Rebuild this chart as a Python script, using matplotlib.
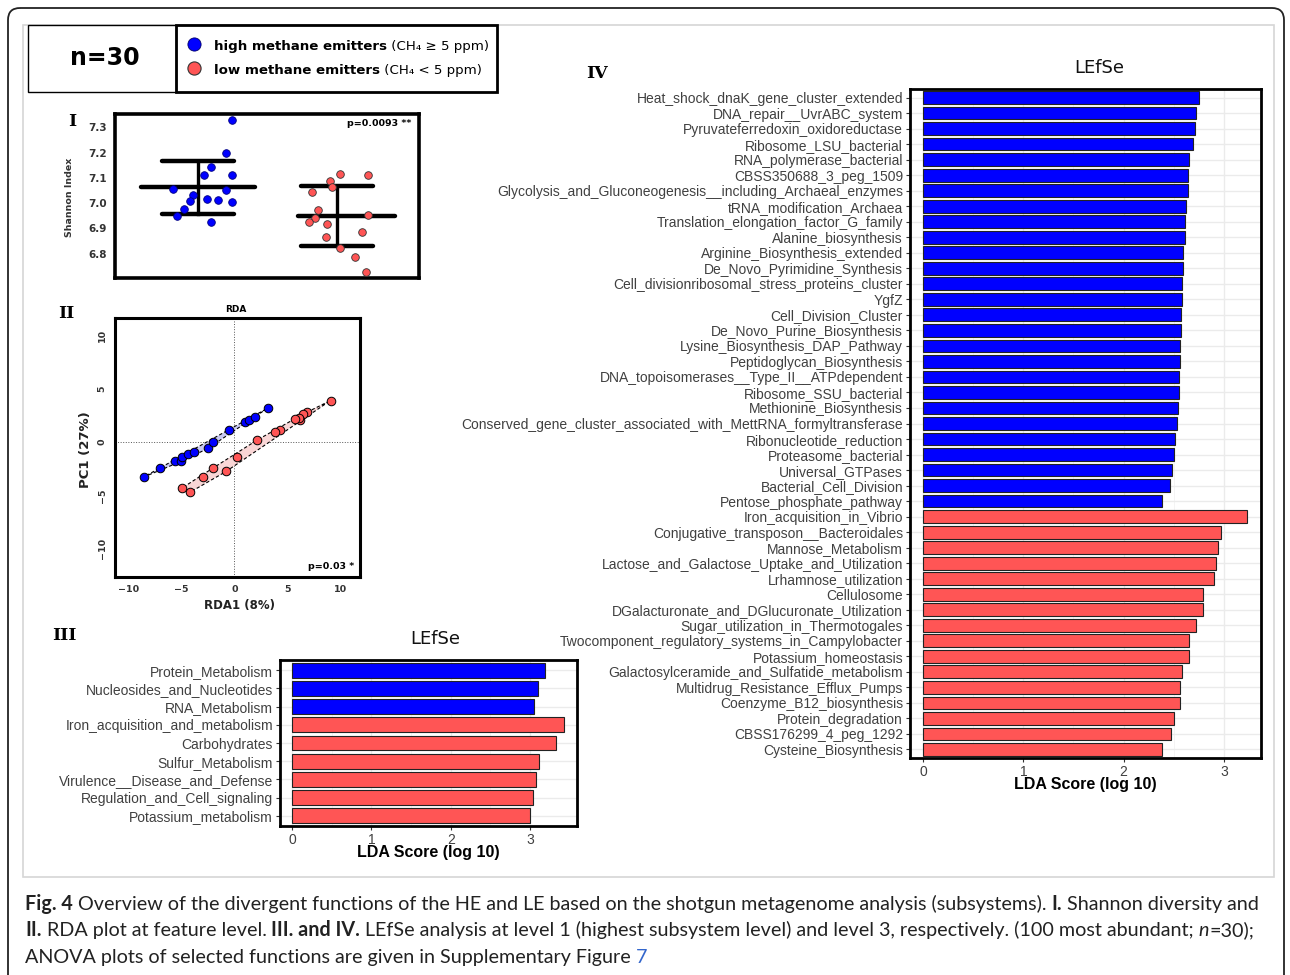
import numpy as np
import matplotlib
matplotlib.use("Agg")
import matplotlib.pyplot as plt
from matplotlib.patches import FancyBboxPatch, Rectangle, Polygon

W, H = 1290, 975

# --- Panel I: Shannon index per animal ---
shannon_high = [7.329, 7.198, 7.144, 7.112, 7.113, 7.058, 7.054, 7.032, 7.015,
                7.011, 7.009, 7.006, 6.976, 6.950, 6.926]
jitter_high = [0.24, 0.20, 0.09, 0.04, 0.24, -0.18, 0.20, -0.04, 0.06,
               0.14, -0.06, 0.24, -0.10, -0.15, 0.09]
shannon_low = [7.115, 7.113, 7.087, 7.066, 7.043, 6.974, 6.942, 6.925, 6.919,
               6.953, 6.868, 6.885, 6.823, 6.787, 6.729]
jitter_low = [0.02, 0.22, -0.05, -0.04, -0.18, -0.14, -0.16, -0.20, -0.07,
              0.22, -0.08, 0.18, 0.02, 0.13, 0.21]
shannon_ticks = [6.8, 6.9, 7.0, 7.1, 7.2, 7.3]

# --- Panel II: RDA scores ---
rda_high_x = [-8.56, -7.0, -5.63, -5.03, -4.91, -4.41, -3.78, -2.5, -1.97, -0.5, 1.0, 1.38, 1.97, 3.13]
rda_high_y = [-3.28, -2.47, -1.81, -1.81, -1.41, -1.09, -0.91, -0.59, 0.0, 1.16, 1.94, 2.06, 2.41, 3.19]
rda_low_x = [9.06, 6.88, 6.47, 6.22, 6.06, 5.69, 4.34, 3.81, 2.13, 0.28, -0.78, -2.03, -2.94, -4.94, -4.16]
rda_low_y = [3.91, 2.81, 2.63, 2.06, 2.25, 2.13, 1.16, 0.97, 0.19, -1.41, -2.75, -2.44, -3.25, -4.31, -4.69]
rda_ticks = [-10, -5, 0, 5, 10]

# --- Panel III: LEfSe level 1 ---
lefse1_features = ['Protein_Metabolism', 'Nucleosides_and_Nucleotides', 'RNA_Metabolism',
                   'Iron_acquisition_and_metabolism', 'Carbohydrates', 'Sulfur_Metabolism',
                   'Virulence__Disease_and_Defense', 'Regulation_and_Cell_signaling',
                   'Potassium_metabolism']
lefse1_scores = [3.19, 3.10, 3.05, 3.43, 3.33, 3.11, 3.07, 3.04, 3.00]
lefse1_group = ['high'] * 3 + ['low'] * 6

# --- Panel IV: LEfSe level 3 ---
lefse3_high_features = [
    'Heat_shock_dnaK_gene_cluster_extended', 'DNA_repair__UvrABC_system',
    'Pyruvateferredoxin_oxidoreductase', 'Ribosome_LSU_bacterial', 'RNA_polymerase_bacterial',
    'CBSS350688_3_peg_1509', 'Glycolysis_and_Gluconeogenesis__including_Archaeal_enzymes',
    'tRNA_modification_Archaea', 'Translation_elongation_factor_G_family', 'Alanine_biosynthesis',
    'Arginine_Biosynthesis_extended', 'De_Novo_Pyrimidine_Synthesis',
    'Cell_divisionribosomal_stress_proteins_cluster', 'YgfZ', 'Cell_Division_Cluster',
    'De_Novo_Purine_Biosynthesis', 'Lysine_Biosynthesis_DAP_Pathway', 'Peptidoglycan_Biosynthesis',
    'DNA_topoisomerases__Type_II__ATPdependent', 'Ribosome_SSU_bacterial', 'Methionine_Biosynthesis',
    'Conserved_gene_cluster_associated_with_MettRNA_formyltransferase', 'Ribonucleotide_reduction',
    'Proteasome_bacterial', 'Universal_GTPases', 'Bacterial_Cell_Division', 'Pentose_phosphate_pathway']
lefse3_high_scores = [2.75, 2.72, 2.71, 2.69, 2.65, 2.64, 2.64, 2.62, 2.61, 2.61, 2.59, 2.59, 2.58,
                      2.58, 2.57, 2.57, 2.56, 2.56, 2.55, 2.55, 2.54, 2.53, 2.51, 2.50, 2.48, 2.46, 2.38]
lefse3_low_features = [
    'Iron_acquisition_in_Vibrio', 'Conjugative_transposon__Bacteroidales', 'Mannose_Metabolism',
    'Lactose_and_Galactose_Uptake_and_Utilization', 'Lrhamnose_utilization', 'Cellulosome',
    'DGalacturonate_and_DGlucuronate_Utilization', 'Sugar_utilization_in_Thermotogales',
    'Twocomponent_regulatory_systems_in_Campylobacter', 'Potassium_homeostasis',
    'Galactosylceramide_and_Sulfatide_metabolism', 'Multidrug_Resistance_Efflux_Pumps',
    'Coenzyme_B12_biosynthesis', 'Protein_degradation', 'CBSS176299_4_peg_1292',
    'Cysteine_Biosynthesis']
lefse3_low_scores = [3.23, 2.97, 2.94, 2.92, 2.90, 2.79, 2.79, 2.72, 2.65, 2.65, 2.58, 2.56, 2.56,
                     2.50, 2.47, 2.38]
lda_ticks = [0, 1, 2, 3]

BLUE = '#0000ff'
RED = '#ff5555'
TICKGREY = '#404040'
colors = {'high': BLUE, 'low': RED}

fig = plt.figure(figsize=(W / 100, H / 100), dpi=100)
fig.patch.set_facecolor('white')

# background axes in pixel coordinates (y down)
bg = fig.add_axes([0, 0, 1, 1], zorder=0)
bg.set_xlim(0, W)
bg.set_ylim(H, 0)
bg.axis('off')


def panel(l, t, r, b):
    return fig.add_axes([l / W, 1 - b / H, (r - l) / W, (b - t) / H], zorder=2)


def convex_hull(xs, ys):
    pts = sorted(set(zip(xs, ys)))

    def cross(o, a, b):
        return (a[0] - o[0]) * (b[1] - o[1]) - (a[1] - o[1]) * (b[0] - o[0])
    lower, upper = [], []
    for p in pts:
        while len(lower) >= 2 and cross(lower[-2], lower[-1], p) <= 0:
            lower.pop()
        lower.append(p)
    for p in reversed(pts):
        while len(upper) >= 2 and cross(upper[-2], upper[-1], p) <= 0:
            upper.pop()
        upper.append(p)
    return lower[:-1] + upper[:-1]


renderer = fig.canvas.get_renderer()


def text_width(s, **kw):
    t = bg.text(0, 0, s + '|', **kw)
    t2 = bg.text(0, 0, '|', **kw)
    w = t.get_window_extent(renderer).width - t2.get_window_extent(renderer).width
    t.remove()
    t2.remove()
    return w


def text_runs(x, y, runs, **kw):
    for s, props in runs:
        opts = dict(kw)
        opts.update(props)
        bg.text(x, y, s, va='baseline', ha='left', **opts)
        x += text_width(s, **opts)


# frames
bg.add_patch(FancyBboxPatch((8, 8), 1276, 1000, boxstyle='round,pad=0,rounding_size=12',
                            fill=False, ec='#222222', lw=1.3))
bg.add_patch(Rectangle((23, 25), 1251, 852, fill=False, ec='#d6d6d6', lw=1.2))

# header: n=30 and legend
bg.add_patch(Rectangle((28, 25), 148, 67, fill=False, ec='black', lw=1.0))
bg.add_patch(Rectangle((176, 25), 321, 67, fill=False, ec='black', lw=2.0))
bg.text(105, 58, 'n=30', ha='center', va='center', fontsize=17, fontweight='bold',
        family='DejaVu Sans')
bg.scatter([194], [44], s=90, color=BLUE, edgecolor='#000066', lw=0.6, zorder=3)
bg.scatter([194], [68], s=90, color=RED, edgecolor='#333333', lw=0.8, zorder=3)
text_runs(214, 50, [('high methane emitters', {'fontweight': 'bold'}),
                    (' (CH\u2084 \u2265 5 ppm)', {})], fontsize=9.6, family='DejaVu Sans')
text_runs(214, 74, [('low methane emitters', {'fontweight': 'bold'}),
                    (' (CH\u2084 < 5 ppm)', {})], fontsize=9.6, family='DejaVu Sans')

# section numerals
for lab, (x, y) in {'I': (72, 122), 'II': (66, 313), 'III': (64, 636), 'IV': (597, 73)}.items():
    bg.text(x, y, lab, ha='center', va='center', fontsize=12.5, fontweight='bold',
            family='DejaVu Serif')

# ---------------- Panel I ----------------
ax1 = panel(115, 114, 419, 278)
for pos, vals, jit, col, ec, (ml, mr) in [(1, shannon_high, jitter_high, BLUE, '#000080', (0.41, 0.41)),
                                          (2, shannon_low, jitter_low, RED, '#333333', (0.28, 0.42))]:
    vals = np.array(vals)
    m, sd = vals.mean(), vals.std(ddof=1)
    ax1.plot([pos - ml, pos + mr], [m, m], color='black', lw=3.2, solid_capstyle='round', zorder=2)
    ax1.plot([pos - 0.26, pos + 0.26], [m + sd, m + sd], color='black', lw=3.2, solid_capstyle='round', zorder=2)
    ax1.plot([pos - 0.26, pos + 0.26], [m - sd, m - sd], color='black', lw=3.2, solid_capstyle='round', zorder=2)
    ax1.plot([pos, pos], [m - sd, m + sd], color='black', lw=2.4, zorder=2)
    ax1.scatter(pos + np.array(jit), vals, s=30, color=col, edgecolor=ec, lw=0.6, zorder=3)
ax1.set_xlim(0.40, 2.59)
ax1.set_ylim(6.704, 7.353)
ax1.set_xticks([])
ax1.set_yticks(shannon_ticks)
ax1.set_yticklabels([f'{v:.1f}' for v in shannon_ticks])
ax1.tick_params(axis='y', length=0, labelsize=7.5, pad=6)
for lab in ax1.get_yticklabels():
    lab.set_fontweight('bold')
    lab.set_color('#333333')
for sp in ax1.spines.values():
    sp.set_linewidth(2.6)
ax1.text(0.975, 0.94, 'p=0.0093 **', transform=ax1.transAxes, ha='right', va='center',
         fontsize=6.8, fontweight='bold')
bg.text(70, 197, 'Shannon Index', rotation=90, ha='center', va='center', fontsize=6.8,
        fontweight='bold', color='#333333')

# ---------------- Panel II ----------------
ax2 = panel(115, 318, 360, 577)
for xs, ys, col, fill, ec in [(rda_high_x, rda_high_y, BLUE, '#c9c9f2', '#000080'),
                              (rda_low_x, rda_low_y, RED, '#f9d6d6', '#333333')]:
    hull = convex_hull(xs, ys)
    ax2.add_patch(Polygon(hull, closed=True, fc=fill, ec='black', lw=0.8, ls=(0, (3, 2)), zorder=1))
    ax2.scatter(xs, ys, s=38, color=col, edgecolor='black', lw=0.7, zorder=3)
ax2.axhline(0, color='#555555', lw=0.7, ls=':', zorder=0)
ax2.axvline(0, color='#555555', lw=0.7, ls=':', zorder=0)
ax2.set_xlim(-11.25, 11.84)
ax2.set_ylim(-12.66, 11.66)
ax2.set_xticks(rda_ticks)
ax2.set_yticks(rda_ticks)
ax2.tick_params(length=0, labelsize=6.8, pad=6)
for lab in ax2.get_xticklabels() + ax2.get_yticklabels():
    lab.set_fontweight('bold')
    lab.set_color('#333333')
for lab in ax2.get_yticklabels():
    lab.set_rotation(90)
    lab.set_va('center')
for sp in ax2.spines.values():
    sp.set_linewidth(2.2)
ax2.text(0.975, 0.04, 'p=0.03 *', transform=ax2.transAxes, ha='right', va='center',
         fontsize=6.8, fontweight='bold')
bg.text(236, 309, 'RDA', ha='center', va='center', fontsize=6.5, fontweight='bold')
bg.text(85, 450, 'PC1 (27%)', rotation=90, ha='center', va='center', fontsize=9.5,
        fontweight='bold', color='#222222')
bg.text(240, 606, 'RDA1 (8%)', ha='center', va='center', fontsize=8.5,
        fontweight='bold', color='#222222')


def lefse_panel(ax, features, scores, groups, xlim):
    y = np.arange(len(features))
    ax.set_axisbelow(True)
    ax.barh(y, scores, height=0.82, color=[colors[g] for g in groups],
            edgecolor='#222222', lw=0.8, zorder=2)
    ax.set_xlim(*xlim)
    ax.set_ylim(len(features) - 0.45, -0.55)
    ax.set_yticks(y)
    ax.set_yticklabels(features, family='Liberation Sans', fontsize=10, color=TICKGREY)
    ax.set_xticks(lda_ticks)
    ax.set_xticks([0.5, 1.5, 2.5], minor=True)
    ax.set_xticklabels([str(t) for t in lda_ticks], family='Liberation Sans', fontsize=10,
                       color=TICKGREY)
    ax.tick_params(axis='both', which='major', length=3, color='#333333', pad=2)
    ax.tick_params(axis='x', which='minor', length=0)
    ax.grid(True, axis='x', which='major', color='#ebebeb', lw=1.0)
    ax.grid(True, axis='x', which='minor', color='#f3f3f3', lw=0.6)
    ax.grid(True, axis='y', which='major', color='#ebebeb', lw=1.0)
    for sp in ax.spines.values():
        sp.set_linewidth(2.0)


# ---------------- Panel III ----------------
ax3 = panel(280, 660, 577, 826)
lefse_panel(ax3, lefse1_features, lefse1_scores, lefse1_group, (-0.15, 3.59))
bg.text(435, 639, 'LEfSe', ha='center', va='center', fontsize=13, family='DejaVu Sans',
        color='#111111')
bg.text(428, 853, 'LDA Score (log 10)', ha='center', va='center', fontsize=11.5,
        fontweight='bold', family='Liberation Sans')

# ---------------- Panel IV ----------------
ax4 = panel(910, 89, 1261, 758)
lefse_panel(ax4, lefse3_high_features + lefse3_low_features,
            lefse3_high_scores + lefse3_low_scores,
            ['high'] * len(lefse3_high_features) + ['low'] * len(lefse3_low_features),
            (-0.13, 3.37))
bg.text(1099, 68, 'LEfSe', ha='center', va='center', fontsize=13, family='DejaVu Sans',
        color='#111111')
bg.text(1085, 785, 'LDA Score (log 10)', ha='center', va='center', fontsize=11.5,
        fontweight='bold', family='Liberation Sans')

# ---------------- Caption ----------------
cap_font = dict(family='Lato', color='#222222')
line1 = [('Fig. 4', {'fontweight': 'bold'}),
         (' Overview of the divergent functions of the HE and LE based on the shotgun '
          'metagenome analysis (subsystems). ', {}),
         ('I.', {'fontweight': 'bold'}),
         (' Shannon diversity and', {})]
line2 = [('II.', {'fontweight': 'bold'}),
         (' RDA plot at feature level. ', {}),
         ('III. and IV.', {'fontweight': 'bold'}),
         (' LEfSe analysis at level 1 (highest subsystem level) and level 3, respectively. '
          '(100 most abundant; ', {}),
         ('n', {'fontstyle': 'italic'}),
         ('=30);', {})]
line3 = [('ANOVA plots of selected functions are given in Supplementary Figure ', {}),
         ('7', {'color': '#3366cc'})]
base = 14
w1 = sum(text_width(s, fontsize=base, **{**cap_font, **p}) for s, p in line1)
cap_size = base * 1241 / w1
text_runs(25, 910, line1, fontsize=cap_size, **cap_font)
text_runs(25, 936, line2, fontsize=cap_size, **cap_font)
text_runs(25, 963, line3, fontsize=cap_size, **cap_font)

fig.savefig('out.png', dpi=100)
